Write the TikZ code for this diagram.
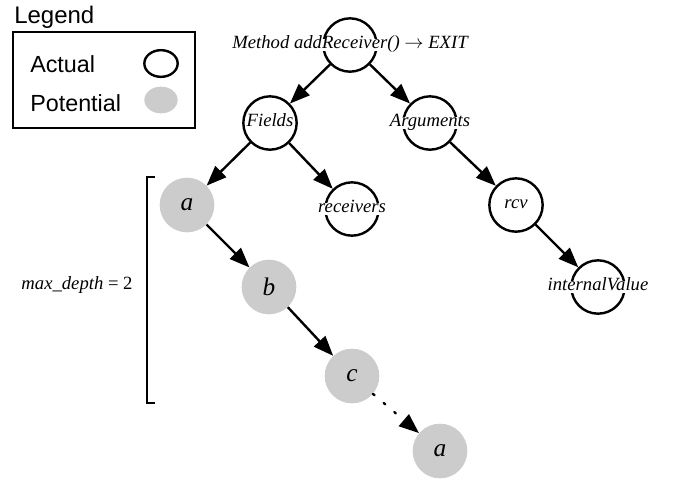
\documentclass[tikz,border=0pt]{standalone}
\usepackage{fontspec}
\setmainfont{Liberation Serif}
\setsansfont{Liberation Sans}
\usetikzlibrary{arrows.meta,shapes.geometric}
\definecolor{potgray}{HTML}{CCCCCC}
\begin{document}
\begin{tikzpicture}[x=0.75pt,y=-0.75pt,
  lbl/.style={font=\fontsize{14}{16}\selectfont\itshape,fill=white,inner sep=0.3pt,text height=0.7em,text depth=0.2em},
  actual/.style={circle,draw,line width=1.8pt,minimum size=40pt,inner sep=0pt,
    label={[lbl]center:#1}},
  potential/.style={circle,fill=potgray,minimum size=41pt,inner sep=0pt,
    font=\fontsize{19}{21}\selectfont\itshape},
  edge/.style={line width=1.8pt,-{Triangle[length=15pt,width=11.5pt]}},
  legtext/.style={font=\sffamily\fontsize{17.5}{20}\selectfont,inner sep=0pt,anchor=west},
]
\useasboundingbox (0,0) rectangle (675,480);

% legend
\node[legtext,font=\sffamily\fontsize{18}{20}\selectfont] (legtitle) at (14,17) {Legend};
\draw[line width=1.8pt] (13,32) rectangle (195,128);
\node[legtext] (actlbl) at (30,64) {Actual};
\node[legtext] (potlbl) at (30,103) {Potential};
\node[ellipse,draw,line width=1.8pt,minimum width=25pt,minimum height=20pt,inner sep=0pt] (actmark) at (161,63.5) {};
\node[ellipse,fill=potgray,minimum width=25pt,minimum height=20pt,inner sep=0pt] (potmark) at (161,100) {};

% tree
\node[actual={Method addReceiver() $\rightarrow$ EXIT}] (root) at (350,45) {};
\node[actual=Fields] (fields) at (270,123) {};
\node[actual=Arguments] (args) at (430,123) {};
\node[potential] (a1) at (187,205) {a};
\node[actual=receivers] (recv) at (352,209) {};
\node[actual=rcv] (rcv) at (516,205) {};
\node[potential] (b) at (269,287) {b};
\node[actual=internalValue] (iv) at (598,287) {};
\node[potential] (c) at (352,376) {c};
\node[potential] (a2) at (440,451) {a};

\draw[edge] (root) -- (fields);
\draw[edge] (root) -- (args);
\draw[edge] (fields) -- (a1);
\draw[edge] (fields) -- (recv);
\draw[edge] (args) -- (rcv);
\draw[edge] (rcv) -- (iv);
\draw[edge] (a1) -- (b);
\draw[edge] (b) -- (c);
\draw[line width=1.8pt,dash pattern=on 1.5pt off 9pt,line cap=round,-{Triangle[length=15pt,width=11.5pt]}] (c) -- (a2);

% bracket
\draw[line width=1.8pt] (155,177) -- (147,177) -- (147,403) -- (155,403);
\node[inner sep=0pt,font=\fontsize{14}{16}\selectfont] (depth) at (77,285) {\textit{max\_depth} = 2};
\end{tikzpicture}
\end{document}
